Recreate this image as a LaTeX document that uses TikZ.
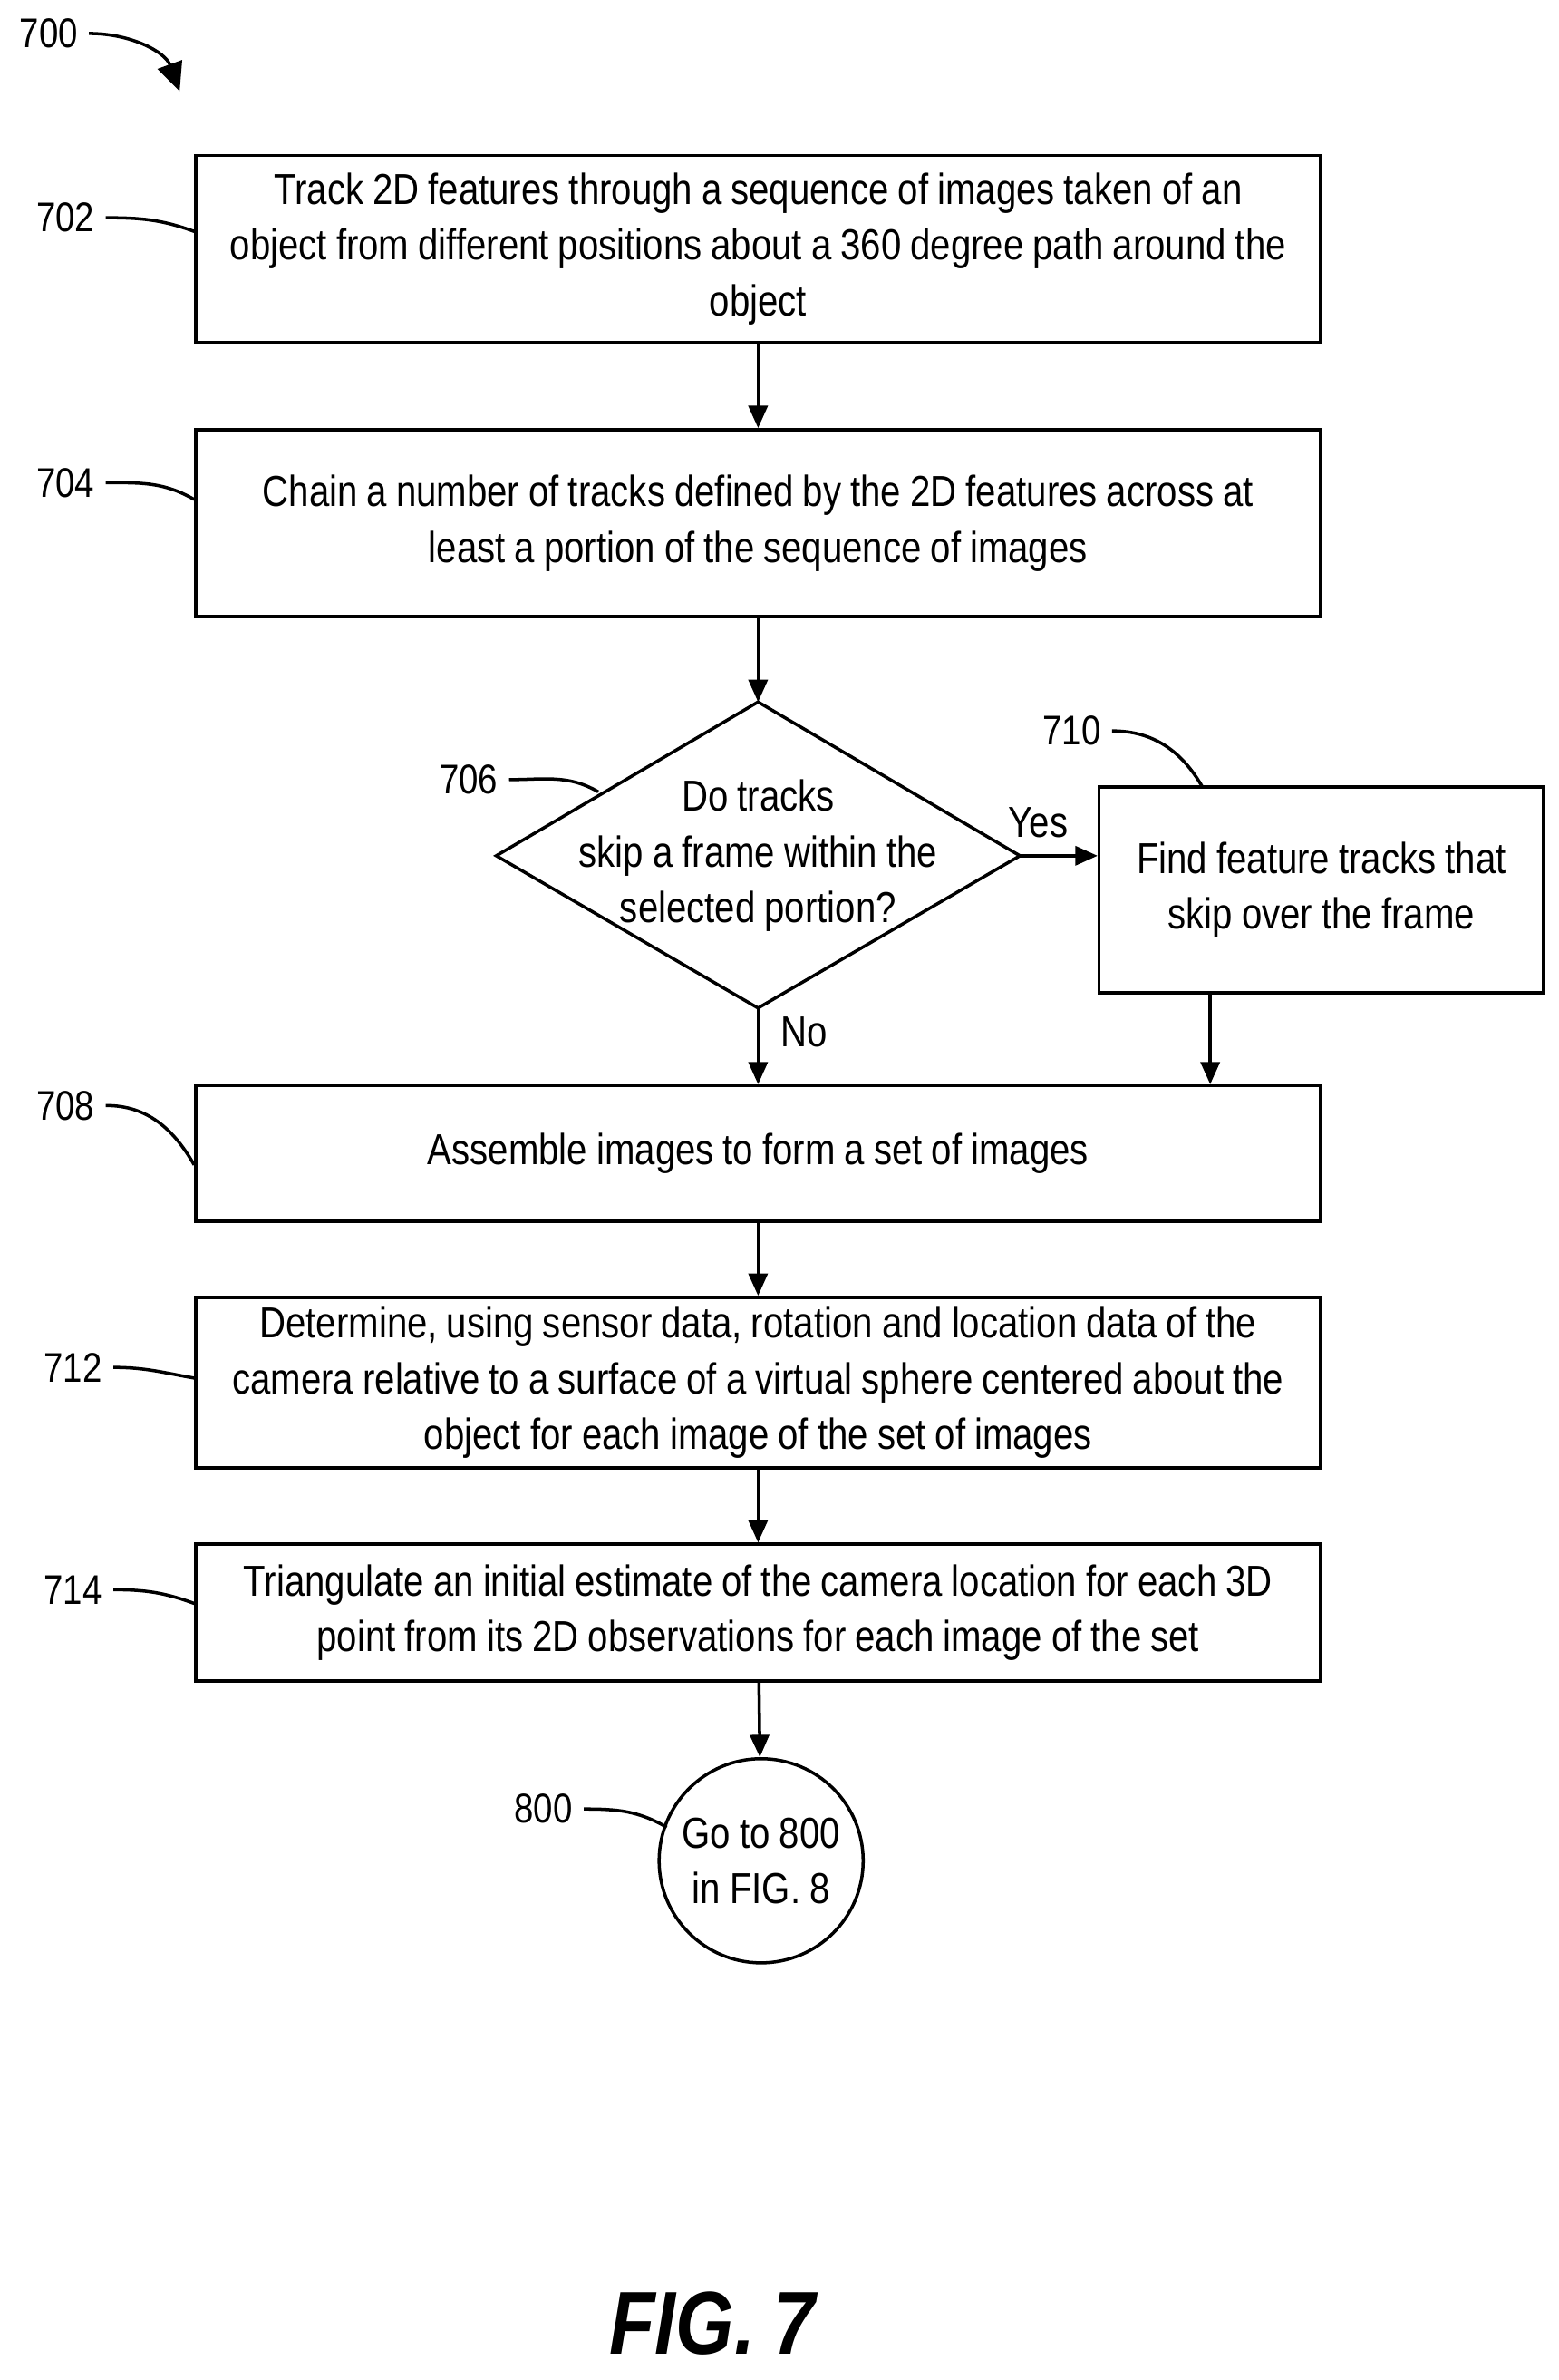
\documentclass[tikz,border=0pt]{standalone}
\usepackage{fontspec}
\setmainfont{Liberation Sans}[FakeStretch=0.84,WordSpace=0.9]
\usetikzlibrary{arrows.meta}
\tikzset{
  box/.style={draw,line width=1pt,minimum height=#1,minimum width=12.4cm,align=center,inner sep=2pt},
  box/.default=2cm,
  flow/.style={line width=1pt,-{Triangle[length=7pt,width=6pt]}},
  lead/.style={line width=1pt},
  tag/.style={font=\fontsize{13}{15}\selectfont}
}
\begin{document}
\begin{tikzpicture}[x=0.01679cm,y=-0.01679cm,font=\fontsize{13.6}{17.5}\selectfont]
    \useasboundingbox (0,0) rectangle (1024,1563);

    % Boxes of the main column
    \node[box=2.06cm] (b702) at (498,163.5) {Track 2D features through a sequence of images taken of an\\object from different positions about a 360 degree path around the\\object};
    \node[box=2.06cm] (b704) at (498,343.5) {Chain a number of tracks defined by the 2D features across at\\least a portion of the sequence of images};

    % Decision diamond
    \node[align=center] (q706) at (498,562) {Do tracks\\skip a frame within the\\selected portion?};
    \coordinate (d706n) at (498,461);
    \coordinate (d706s) at (498,662);
    \coordinate (d706w) at (326,562);
    \coordinate (d706e) at (670,562);
    \draw[line width=1pt] (d706n) -- (d706e) -- (d706s) -- (d706w) -- cycle;

    \node[draw,line width=1pt,minimum width=4.9cm,minimum height=2.27cm,align=center] (b710) at (868,584.5) {Find feature tracks that\\skip over the frame};
    \node[box=1.49cm] (b708) at (498,757.5) {Assemble images to form a set of images};
    \node[box=1.88cm] (b712) at (498,908) {Determine, using sensor data, rotation and location data of the\\camera relative to a surface of a virtual sphere centered about the\\object for each image of the set of images};
    \node[box=1.51cm] (b714) at (498,1059) {Triangulate an initial estimate of the camera location for each 3D\\point from its 2D observations for each image of the set};
    \node[draw,circle,line width=1pt,minimum size=2.25cm,align=center,inner sep=0pt] (c800) at (500,1222) {Go to 800\\in FIG. 8};

    % Flow arrows
    \draw[flow] (b702) -- (b704);
    \draw[flow] (b704) -- (d706n);
    \draw[flow] (d706e) -- (d706e -| b710.west);
    \draw[flow] (d706s) -- (b708);
    \draw[flow] (b710.south -| 795,0) -- (b708.north -| 795,0);
    \draw[flow] (b708) -- (b712);
    \draw[flow] (b712) -- (b714);
    \draw[flow] (b714) -- (c800);
    \node (yes) at (682,540) {Yes};
    \node (no) at (528,678) {No};

    % Reference numerals
    \node[tag] (t700) at (32,22) {700};
    \node[tag] (t702) at (43,143) {702};
    \node[tag] (t704) at (43,317) {704};
    \node[tag] (t706) at (308,512) {706};
    \node[tag] (t710) at (704,480) {710};
    \node[tag] (t708) at (43,726) {708};
    \node[tag] (t712) at (48,898) {712};
    \node[tag] (t714) at (48,1044) {714};
    \node[tag] (t800) at (357,1188) {800};

    % Leader lines
    \coordinate (e700) at (118,60);
    \draw[lead,-{Triangle[length=9pt,width=8pt]}] (t700.east) to[out=0,in=110] (e700);
    \draw[lead] (t702.east) to[out=0,in=160] (b702.west |- 0,152);
    \draw[lead] (t704.east) to[out=0,in=150] (b704.west |- 0,328);
    \draw[lead] (t706.east) to[out=0,in=150] (393,520);
    \draw[lead] (t710.east) to[out=0,in=120] (790,517);
    \draw[lead] (t708.east) to[out=0,in=120] (b708.west |- 0,765);
    \draw[lead] (t712.east) to[out=0,in=170] (b712.west |- 0,905);
    \draw[lead] (t714.east) to[out=0,in=160] (b714.west |- 0,1053);
    \draw[lead] (t800.east) to[out=0,in=150] (438,1200);

    % Figure caption
    \node[font=\fontsize{28}{30}\selectfont\bfseries\itshape] (fig) at (468,1526) {FIG. 7};
\end{tikzpicture}
\end{document}
